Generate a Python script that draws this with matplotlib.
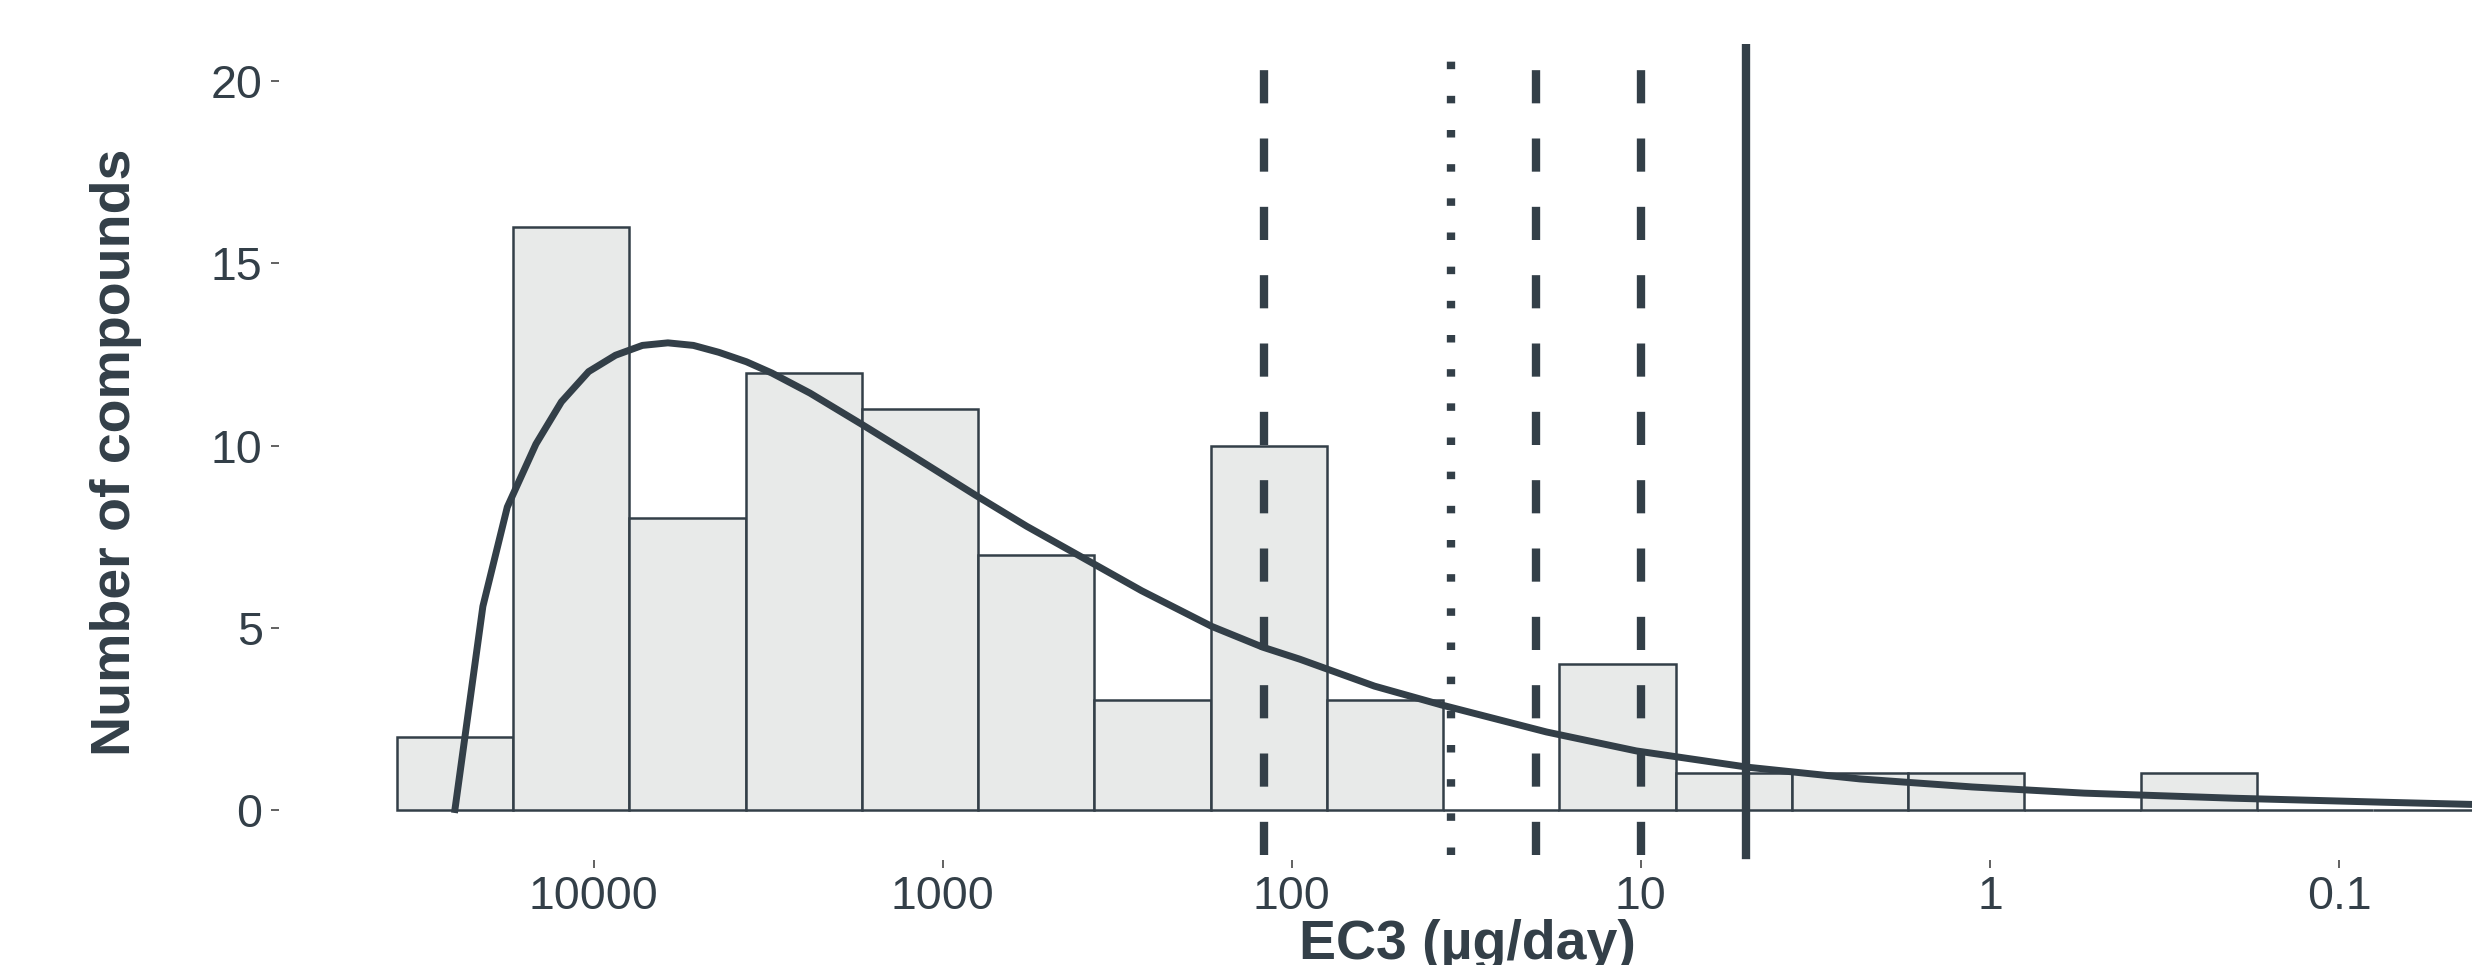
import numpy as np
import matplotlib
matplotlib.use("Agg")
import matplotlib.pyplot as plt

plt.rcParams['font.family'] = ['Liberation Sans', 'DejaVu Sans']

DARK = '#333f48'

# histogram: log10(EC3) bin edges (high -> low) and counts per bin
bin_edges_log = [4.563, 4.230, 3.897, 3.564, 3.231, 2.898, 2.565, 2.232, 1.899,
                 1.566, 1.233, 0.900, 0.567, 0.234, -0.099, -0.432, -0.765,
                 -1.098, -1.431]
counts = [2, 16, 8, 12, 11, 7, 3, 10, 3, 0, 4, 1, 1, 1, 0, 1, 0, 0]

# fitted density curve (log10 EC3, count)
curve_log = [4.397, 4.317, 4.247, 4.165, 4.092, 4.014, 3.937, 3.860, 3.787,
             3.714, 3.641, 3.562, 3.489, 3.380, 3.233, 3.088, 2.905, 2.759,
             2.612, 2.430, 2.229, 2.083, 1.977, 1.763, 1.570, 1.270, 1.013,
             0.692, 0.372, 0.051, -0.270, -0.699, -1.128, -1.381, -1.600]
curve_y = [0.0, 5.58, 8.31, 10.04, 11.20, 12.03, 12.48, 12.75, 12.82,
           12.75, 12.56, 12.30, 11.99, 11.44, 10.59, 9.73, 8.63, 7.78,
           6.99, 6.01, 5.03, 4.46, 4.13, 3.39, 2.87, 2.13, 1.61,
           1.16, 0.84, 0.62, 0.45, 0.31, 0.20, 0.14, 0.10]

# reference lines (EC3 in ug/day) and their styles
ref_values = [120, 35, 20, 10, 5]
ref_styles = ['dashed', 'dotted', 'dashed', 'dashed', 'solid']

x_ticks = [10000, 1000, 100, 10, 1, 0.1]
x_ticklabels = ['10000', '1000', '100', '10', '1', '0.1']
y_ticks = [0, 5, 10, 15, 20]

W, H = 2472, 965
fig = plt.figure(figsize=(W / 100, H / 100), dpi=100)
ax = fig.add_axes([279 / W, 1 - 860 / H, 1 - 279 / W, (860 - 44) / H])

edges = 10 ** np.array(bin_edges_log)
ax.bar(edges[1:], counts, width=edges[:-1] - edges[1:], align='edge',
       color='#e8eae9', edgecolor=DARK, linewidth=1.8, zorder=2)

ax.plot(10 ** np.array(curve_log), curve_y, color=DARK, lw=5,
        solid_joinstyle='round', zorder=4)

dash_map = {'dashed': (0, (3.98, 4.22)), 'dotted': (0, (0.9, 3.2)), 'solid': '-'}
for v, s in zip(ref_values, ref_styles):
    ax.plot([v, v], [0.006, 1.0], transform=ax.get_xaxis_transform(),
            color=DARK, lw=6, linestyle=dash_map[s], dash_capstyle='butt',
            zorder=3)

ax.set_xscale('log')
ax.set_xlim(10 ** 4.901, 10 ** -1.381)
ax.set_ylim(-1.387, 21.03)

ax.set_xticks(x_ticks)
ax.set_xticklabels(x_ticklabels)
ax.xaxis.set_minor_locator(matplotlib.ticker.NullLocator())
ax.set_yticks(y_ticks)

ax.tick_params(axis='both', colors='#555555', labelcolor=DARK,
               labelsize=33.5, length=6, width=1.3, direction='out')
ax.tick_params(axis='y', pad=5.8)
ax.tick_params(axis='x', pad=5)

for sp in ax.spines.values():
    sp.set_visible(False)

fig.text(116 / W, 1 - 452 / H, 'Number of compounds', rotation=90,
         ha='center', va='center', fontsize=40, fontweight='bold', color=DARK)
fig.text(1467 / W, 1 - 919 / H, 'EC3 (µg/day)', ha='center', va='top',
         fontsize=40, fontweight='bold', color=DARK)

fig.savefig('out.png', dpi=100, facecolor='white')
